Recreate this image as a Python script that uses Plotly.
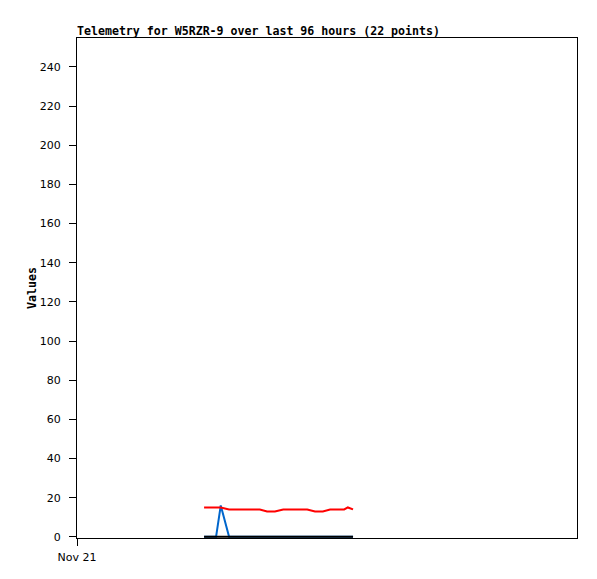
import plotly.graph_objects as go

hours = [24.4, 25.7, 26.7, 27.6, 29.2, 30.5, 32.1, 33.6, 35.1, 36.5, 38.0,
         39.6, 41.1, 42.6, 44.2, 45.7, 47.2, 48.6, 49.9, 51.3, 52.0, 53.0]
red_vals = [15, 15, 15, 15, 14, 14, 14, 14, 14, 13, 13,
            14, 14, 14, 14, 13, 13, 14, 14, 14, 15, 14]
blue_vals = [0, 0, 0, 16, 0, 0, 0, 0, 0, 0, 0,
             0, 0, 0, 0, 0, 0, 0, 0, 0, 0, 0]
black_vals = [0] * 22
y_ticks = [0, 20, 40, 60, 80, 100, 120, 140, 160, 180, 200, 220, 240]
x_tick_vals = [0]
x_tick_text = ["Nov 21"]

W, H = 597, 579
off = 8  # page body margin

fig = go.Figure()
fig.add_trace(go.Scatter(x=hours, y=blue_vals, mode="lines",
                         line=dict(color="#0066cc", width=2), showlegend=False))
fig.add_trace(go.Scatter(x=hours, y=black_vals, mode="lines",
                         line=dict(color="#000000", width=2), showlegend=False))
fig.add_trace(go.Scatter(x=hours, y=red_vals, mode="lines",
                         line=dict(color="#ff0000", width=2), showlegend=False))

fig.update_layout(
    width=W, height=H,
    margin=dict(l=77 - off, r=W - (577 - off), t=38 - off, b=H - (538 - off)),
    paper_bgcolor="white", plot_bgcolor="white",
    title=dict(text="<b>Telemetry for W5RZR-9 over last 96 hours (22 points)</b>",
               x=(77 - off) / W, xanchor="left", y=1 - (31 - off) / H, yanchor="middle",
               font=dict(family="DejaVu Sans Mono", size=11.6, color="black")),
    font=dict(family="DejaVu Sans", size=11, color="black"),
)
fig.update_xaxes(range=[0, 96], tickvals=x_tick_vals, ticktext=x_tick_text,
                 showgrid=False, zeroline=False, showline=True, linecolor="black",
                 linewidth=1, mirror=True, ticks="outside", ticklen=7,
                 tickcolor="black", ticklabelstandoff=2, tickfont=dict(size=11))
fig.update_yaxes(range=[-0.6, 254.8], tickvals=y_ticks, showgrid=False, zeroline=False,
                 showline=True, linecolor="black", linewidth=1, mirror=True,
                 ticks="outside", ticklen=7, tickcolor="black",
                 ticklabelstandoff=6, tickfont=dict(size=11),
                 title=dict(text="<b>Values</b>", standoff=0,
                            font=dict(family="DejaVu Sans Mono", size=11.6)))

fig.write_html("out.html")
